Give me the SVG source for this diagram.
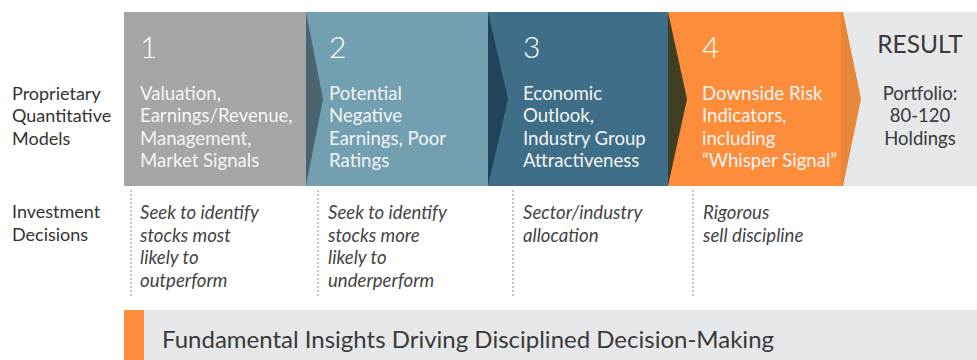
<svg xmlns="http://www.w3.org/2000/svg" width="977" height="360" viewBox="0 0 977 360">
<style>
.lbl{font-family:Lato,"Noto Sans",sans-serif;font-size:18px;fill:#333}
.num{font-family:Lato,"Noto Sans",sans-serif;font-size:30px;font-weight:300;fill:#fff}
.pt{font-family:Lato,"Noto Sans",sans-serif;font-size:18.6px;fill:#f4f4f4}
.res{font-family:Lato,"Noto Sans",sans-serif;fill:#3a3a3a}
.it{font-family:Lato,"Noto Sans",sans-serif;font-size:18.6px;font-style:italic;fill:#444}
.dash{stroke:#8a8a8a;stroke-width:1;stroke-dasharray:2 2;fill:none}
</style>
<rect width="977" height="360" fill="#fff"/>
<g id="labels">
<text class="lbl" x="12" y="100">Proprietary</text>
<text class="lbl" x="12" y="122">Quantitative</text>
<text class="lbl" x="12" y="145">Models</text>
<text class="lbl" x="12" y="218">Investment</text>
<text class="lbl" x="12" y="241">Decisions</text>
</g>
<g id="result">
<rect x="843" y="12" width="134" height="174" fill="#e6e7e9"/>
<text class="res" x="920" y="53" font-size="24.5" text-anchor="middle">RESULT</text>
<text class="res" x="920" y="100" font-size="18.5" text-anchor="middle">Portfolio:</text>
<text class="res" x="920" y="122" font-size="18.5" text-anchor="middle">80-120</text>
<text class="res" x="920" y="145" font-size="18.5" text-anchor="middle">Holdings</text>
</g>
<g id="step1">
<rect x="124" y="12" width="182" height="174" fill="#a5a5a5"/>
<text class="num" x="140" y="58">1</text>
<text class="pt" x="140" y="100">Valuation,</text>
<text class="pt" x="140" y="122">Earnings/Revenue,</text>
<text class="pt" x="140" y="145">Management,</text>
<text class="pt" x="140" y="167">Market Signals</text>
</g>
<g id="step2">
<rect x="306" y="12" width="183" height="174" fill="#72a0b0"/>
<polygon points="306,12 323,99 306,186" fill="#4b6470"/>
<text class="num" x="329" y="58">2</text>
<text class="pt" x="329" y="100">Potential</text>
<text class="pt" x="329" y="122">Negative</text>
<text class="pt" x="329" y="145">Earnings, Poor</text>
<text class="pt" x="329" y="167">Ratings</text>
</g>
<g id="step3">
<rect x="488" y="12" width="181" height="174" fill="#3f6f88"/>
<polygon points="488,12 508,99 488,186" fill="#1f445c"/>
<text class="num" x="523" y="58">3</text>
<text class="pt" x="523" y="100">Economic</text>
<text class="pt" x="523" y="122">Outlook,</text>
<text class="pt" x="523" y="145">Industry Group</text>
<text class="pt" x="523" y="167">Attractiveness</text>
</g>
<g id="step4">
<rect x="668" y="12" width="175" height="174" fill="#fd8d3a"/>
<polygon points="668,12 687,99 668,186" fill="#3e3f23"/>
<polygon points="841,12 843,12 861,99 843,186 841,186" fill="#e8863a"/>
<text class="num" x="702" y="58">4</text>
<text class="pt" x="702" y="100">Downside Risk</text>
<text class="pt" x="702" y="122">Indicators,</text>
<text class="pt" x="702" y="145">including</text>
<text class="pt" x="702" y="167">“Whisper Signal”</text>
</g>
<g id="decisions">
<line class="dash" x1="131" y1="190" x2="131" y2="296"/>
<line class="dash" x1="318" y1="190" x2="318" y2="296"/>
<line class="dash" x1="513" y1="190" x2="513" y2="296"/>
<line class="dash" x1="693" y1="190" x2="693" y2="296"/>
<text class="it" x="140" y="219">Seek to identify</text>
<text class="it" x="140" y="242">stocks most</text>
<text class="it" x="140" y="264">likely to</text>
<text class="it" x="140" y="287">outperform</text>
<text class="it" x="328" y="219">Seek to identify</text>
<text class="it" x="328" y="242">stocks more</text>
<text class="it" x="328" y="264">likely to</text>
<text class="it" x="328" y="287">underperform</text>
<text class="it" x="523" y="219">Sector/industry</text>
<text class="it" x="523" y="242">allocation</text>
<text class="it" x="703" y="219">Rigorous</text>
<text class="it" x="703" y="242">sell discipline</text>
</g>
<g id="banner">
<rect x="124" y="310" width="20" height="50" fill="#fd8d3a"/>
<rect x="144" y="310" width="833" height="50" fill="#e6e7e9"/>
<text class="res" x="162" y="348" font-size="24">Fundamental Insights Driving Disciplined Decision-Making</text>
</g>
</svg>
